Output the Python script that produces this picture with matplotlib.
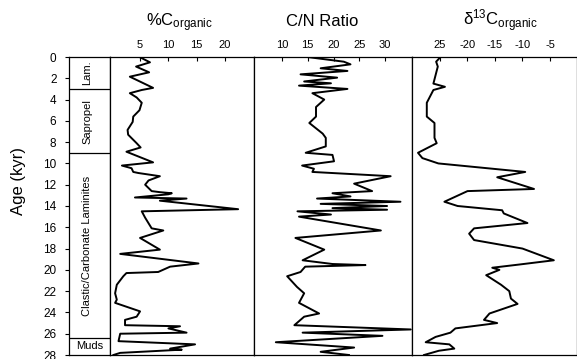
import matplotlib
matplotlib.use("Agg")
import matplotlib.pyplot as plt

plt.rcParams['font.family'] = ['Liberation Sans', 'DejaVu Sans']
plt.rcParams['mathtext.fontset'] = 'custom'
plt.rcParams['mathtext.rm'] = 'Liberation Sans'
plt.rcParams['mathtext.it'] = 'Liberation Sans:italic'

# %C organic
toc_age = [0.0, 0.5, 0.9, 1.44, 1.85, 2.9, 3.1, 3.4, 3.8, 4.3, 5.0, 5.6, 6.1, 6.85, 7.3, 8.1, 8.5, 8.9,
           9.9, 10.2, 10.45, 10.8, 10.9, 11.2, 11.6, 12.0, 12.6, 12.7, 12.8, 12.9, 13.2, 13.3, 13.5,
           14.3, 14.5, 15.1, 16.1, 16.3, 17.0, 18.1, 18.5, 19.4, 19.7, 20.2, 20.3, 20.6, 21.4, 22.2,
           22.8, 23.1, 23.9, 24.4, 24.7, 25.2, 25.3, 25.5, 25.9, 26.0, 26.7, 27.0, 27.4, 27.5, 27.8, 28.0]
toc_val = [4.9, 6.75, 4.3, 6.6, 3.2, 7.3, 5.3, 3.2, 4.4, 5.3, 4.9, 3.8, 3.7, 2.8, 2.9, 4.4, 5.1, 2.6,
           7.3, 1.8, 3.5, 3.8, 4.7, 8.5, 6.5, 5.9, 7.05, 8.5, 10.6, 10.0, 4.1, 13.2, 8.5,
           22.3, 5.3, 5.9, 7.05, 9.1, 5.0, 8.5, 1.5, 15.3, 10.3, 8.2, 2.6, 2.05, 0.9, 0.6,
           0.9, 0.6, 5.0, 4.4, 2.35, 2.35, 12.05, 10.0, 13.2, 1.5, 1.2, 14.7, 10.3, 12.35, 1.5, 0.3]

# C/N ratio
cn_age = [0.0, 0.44, 0.69, 1.06, 1.31, 1.63, 1.94, 2.3, 2.47, 2.69, 3.0, 3.4, 4.0, 4.7, 5.6, 6.2,
          7.2, 7.6, 8.4, 9.0, 9.2, 9.8, 10.2, 10.5, 10.8, 11.2, 11.9, 12.6, 12.8, 13.1, 13.3, 13.6,
          13.8, 14.0, 14.2, 14.35, 14.5, 14.8, 15.0, 16.3, 17.0, 18.1, 19.1, 19.45, 19.55, 19.7,
          20.2, 20.6, 21.6, 22.2, 23.1, 24.1, 24.4, 25.2, 25.6, 25.9, 26.2, 26.8, 27.3, 27.7, 28.0]
cn_val = [14.9, 22.0, 23.3, 17.5, 22.7, 13.6, 20.7, 14.3, 19.5, 13.3, 22.7, 15.9, 18.2, 16.6, 16.6, 15.3,
          17.9, 18.5, 18.5, 14.6, 19.8, 20.1, 13.9, 16.2, 15.9, 31.1, 24.0, 27.5, 19.8, 23.3, 16.8, 33.0,
          17.5, 30.4, 19.8, 30.4, 13.0, 19.5, 13.3, 29.2, 12.6, 18.2, 14.0, 19.8, 26.2, 14.5,
          13.6, 11.0, 12.9, 14.3, 13.3, 17.2, 14.3, 12.4, 35.0, 14.0, 29.5, 8.8, 24.0, 17.5, 23.0]

# delta 13C organic
d13c_age = [0.0, 0.44, 0.9, 2.5, 2.8, 3.1, 4.3, 5.6, 6.2, 7.6, 8.1, 9.0, 9.5, 10.0, 10.8, 11.3,
            12.4, 12.6, 13.6, 14.0, 14.4, 14.7, 15.6, 16.1, 16.6, 17.2, 18.0, 19.1, 19.5, 19.8,
            20.0, 20.5, 21.4, 22.0, 22.7, 23.2, 24.1, 24.7, 25.0, 25.5, 25.9, 26.3, 26.8, 27.0,
            27.4, 27.6, 28.0]
d13c_val = [-24.9, -25.7, -25.4, -26.2, -24.1, -26.2, -27.4, -27.4, -26.0, -26.0, -25.6, -29.0, -28.2, -25.3, -9.5, -14.6,
            -7.9, -20.0, -24.2, -21.8, -13.7, -13.4, -9.1, -18.8, -19.7, -18.8, -10.0, -4.3, -10.6, -15.5,
            -14.2, -16.6, -13.9, -12.4, -12.1, -10.9, -16.0, -17.0, -14.6, -22.2, -23.1, -25.8, -27.6, -23.3,
            -22.4, -25.2, -27.9]

# lithology units
unit_names = ['Lam.', 'Sapropel', 'Clastic/Carbonate Laminites', 'Muds']
unit_tops = [0.0, 3.03, 9.05, 26.4]
unit_bottoms = [3.03, 9.05, 26.4, 28.0]

age_ticks = list(range(0, 29, 2))
toc_ticks = [5, 10, 15, 20]
cn_ticks = [10, 15, 20, 25, 30]
d13c_ticks = [-25, -20, -15, -10, -5]
d13c_labels = ['25', '-20', '-15', '-10', '-5']

W, H = 577, 359
fig = plt.figure(figsize=(W / 100, H / 100), dpi=100)

def box(x0, x1, y0=57, y1=355):
    return [x0 / W, 1 - y1 / H, (x1 - x0) / W, (y1 - y0) / H]

ax_lith = fig.add_axes(box(69, 110))
ax1 = fig.add_axes(box(110, 254))
ax2 = fig.add_axes(box(254, 412))
ax3 = fig.add_axes(box(412, 577))

for ax in (ax_lith, ax1, ax2, ax3):
    ax.set_ylim(28, 0)
    for s in ax.spines.values():
        s.set_linewidth(0.9)

# lithology column
ax_lith.set_xlim(0, 1)
ax_lith.set_xticks([])
ax_lith.set_yticks(age_ticks)
ax_lith.tick_params(axis='y', direction='out', length=3, pad=6, labelsize=8.5, width=0.8)
for name, top, bot in zip(unit_names, unit_tops, unit_bottoms):
    if bot < 28:
        ax_lith.axhline(bot, color='black', lw=0.9)
    mid = (top + bot) / 2
    if name == 'Muds':
        ax_lith.text(0.5, mid, name, ha='center', va='center', fontsize=8)
    else:
        ax_lith.text(0.45, mid, name, ha='center', va='center', fontsize=8, rotation=90)

# data panels
panels = [
    (ax1, toc_val, toc_age, (-0.3, 25.1), toc_ticks, None),
    (ax2, cn_val, cn_age, (4.56, 35.24), cn_ticks, None),
    (ax3, d13c_val, d13c_age, (-30.09, -0.09), d13c_ticks, d13c_labels),
]
for ax, vals, ages, xlim, ticks, labels in panels:
    ax.plot(vals, ages, color='black', lw=1.4)
    ax.set_xlim(*xlim)
    ax.xaxis.tick_top()
    ax.set_xticks(ticks)
    if labels is not None:
        ax.set_xticklabels(labels)
    ax.set_yticks([])
    ax.tick_params(axis='x', direction='in', length=3, pad=5, labelsize=8, width=0.8)

# titles
fig.text(179 / W, 1 - 26 / H, r'%C$_{\rm organic}$', ha='center', va='baseline', fontsize=12)
fig.text(322 / W, 1 - 26 / H, 'C/N Ratio', ha='center', va='baseline', fontsize=12)
fig.text(500 / W, 1 - 26 / H, r'δ$^{\rm 13}$C$_{\rm organic}$', ha='center', va='baseline', fontsize=12)

fig.text(18 / W, 1 - 181 / H, 'Age (kyr)', rotation=90, ha='center', va='center', fontsize=12)

fig.savefig('out.png', dpi=100)
